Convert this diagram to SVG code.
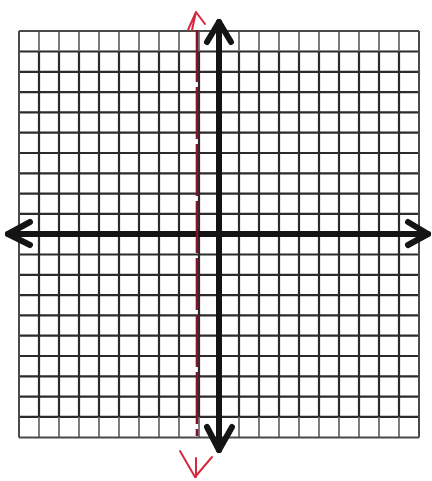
<svg xmlns="http://www.w3.org/2000/svg" width="432" height="481" viewBox="0 0 432 481">
<style>
.g{stroke:#2b2b2b;stroke-width:2.2;fill:none}
.gf{stroke:#6e6e6e;stroke-width:1.8;fill:none}
.bd{stroke:#4a4a4a;stroke-width:2;fill:none}
.ax{stroke:#141414;stroke-width:6;fill:none;stroke-linecap:round;stroke-linejoin:round}
.red{stroke:#7e1628;stroke-width:2.6;fill:none;stroke-dasharray:52 5}
.rh{stroke:#d42a40;stroke-width:2;fill:none;stroke-linecap:round;stroke-linejoin:round}
</style>
<rect width="432" height="481" fill="#fff"/>
<g id="grid">
<path class="g" d="M19 51.5H419M19 71.8H419M19 92.1H419M19 112.4H419M19 132.7H419M19 153H419M19 173.3H419M19 193.6H419M19 213.9H419M19 254.5H419M19 274.8H419M19 295.1H419M19 315.4H419M19 335.7H419M19 356H419M19 376.3H419M19 396.6H419M19 416.9H419"/>
<path class="g" d="M39 51.5V416.9M59 51.5V416.9M79 51.5V416.9M99 51.5V416.9M119 51.5V416.9M139 51.5V416.9M159 51.5V416.9M179 51.5V416.9M199 51.5V416.9M239 51.5V416.9M259 51.5V416.9M279 51.5V416.9M299 51.5V416.9M319 51.5V416.9M339 51.5V416.9M359 51.5V416.9M379 51.5V416.9M399 51.5V416.9"/>
<path class="gf" d="M39 31V51.5M59 31V51.5M79 31V51.5M99 31V51.5M119 31V51.5M139 31V51.5M159 31V51.5M179 31V51.5M199 31V51.5M239 31V51.5M259 31V51.5M279 31V51.5M299 31V51.5M319 31V51.5M339 31V51.5M359 31V51.5M379 31V51.5M399 31V51.5"/>
<path class="gf" d="M39 416.9V437.5M59 416.9V437.5M79 416.9V437.5M99 416.9V437.5M119 416.9V437.5M139 416.9V437.5M159 416.9V437.5M179 416.9V437.5M199 416.9V437.5M239 416.9V437.5M259 416.9V437.5M279 416.9V437.5M299 416.9V437.5M319 416.9V437.5M339 416.9V437.5M359 416.9V437.5M379 416.9V437.5M399 416.9V437.5"/>
<path class="bd" d="M19 31H419M19 437.5H419M19 31V437.5M419 31V437.5"/>
</g>
<g id="connectors">
<g id="x-axis">
<path class="ax" d="M8 234H428"/>
<path class="ax" d="M30 222L8 234L30 245"/>
<path class="ax" d="M408 222L428 234L408 245"/>
</g>
<g id="y-axis">
<path class="ax" d="M219 22V450"/>
<path class="ax" d="M207 42L219 22L231 42"/>
<path class="ax" d="M207 427L219 450L232 427"/>
</g>
<g id="red-line">
<path class="red" d="M197 30V436"/>
<path class="rh" d="M188 30L196 12L205 24M196 12L192 30"/>
<path class="rh" d="M180 451L195 477L212 457M196 458V477"/>
</g>
</g>
</svg>
